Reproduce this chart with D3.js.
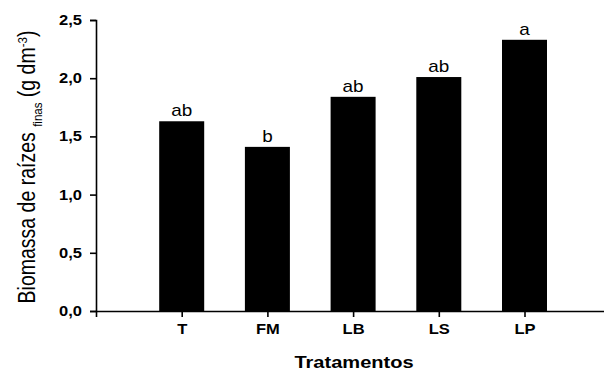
<!DOCTYPE html>
<html><head><meta charset="utf-8">
<script src="https://cdn.jsdelivr.net/npm/d3@7"></script>
<style>body{margin:0;background:#fff}svg{display:block}text{font-family:Arial,"Liberation Sans",sans-serif}</style>
</head><body>
<script>
const categories = ["T","FM","LB","LS","LP"];
const values = [1.63, 1.41, 1.84, 2.01, 2.33];
const letters = ["ab","b","ab","ab","a"];
const yTicks = [0, 0.5, 1.0, 1.5, 2.0, 2.5];

const W = 604, H = 372;
const SX = 1.18; // horizontal stretch of text
const svg = d3.select("body").append("svg").attr("width", W).attr("height", H);
const x0 = 96, y0 = 311, yTop = 20;
const y = d3.scaleLinear().domain([0, 2.5]).range([y0, yTop]);
const x = d3.scaleLinear().domain([0, 6]).range([x0, x0 + 6 * 85.7]);
const barW = 45;
const fmt = d => d3.format(".1f")(d).replace(".", ",");

// bars
svg.selectAll("rect.bar").data(values).join("rect")
  .attr("x", (d, i) => x(i + 1) - barW / 2)
  .attr("y", d => y(d))
  .attr("width", barW)
  .attr("height", d => y(0) - y(d))
  .attr("fill", "#000");

svg.selectAll("text.let").data(values).join("text")
  .attr("transform", (d, i) => `translate(${x(i + 1)},${y(d) - 5}) scale(${SX},1)`)
  .attr("text-anchor", "middle")
  .attr("font-size", 16)
  .text((d, i) => letters[i]);

// y axis
const ya = svg.append("g").attr("transform", `translate(${x0},0)`)
  .call(d3.axisLeft(y).tickValues(yTicks).tickFormat(fmt).tickSizeOuter(0).tickSize(6).tickPadding(8));
ya.select(".domain").attr("stroke", "#000").attr("stroke-width", 1.6);
ya.selectAll(".tick line").attr("stroke-width", 1.6);
ya.selectAll("text").attr("font-size", 14).attr("font-weight", "bold")
  .attr("font-family", "Arial, 'Liberation Sans', sans-serif")
  .attr("x", -14 / SX).attr("transform", `scale(${SX},1)`);

// x axis
const xa = svg.append("g").attr("transform", `translate(0,${y0})`)
  .call(d3.axisBottom(x).tickValues([1,2,3,4,5]).tickFormat(d => categories[d - 1]).tickSizeOuter(0).tickSize(6).tickPadding(7));
xa.select(".domain").attr("stroke", "#000").attr("stroke-width", 1.6);
xa.selectAll(".tick line").attr("stroke-width", 1.6);
xa.selectAll("text").attr("font-size", 14).attr("font-weight", "bold")
  .attr("font-family", "Arial, 'Liberation Sans', sans-serif")
  .attr("transform", `scale(${SX},1)`);

// titles
svg.append("text").attr("transform", `translate(354,368) scale(${SX},1)`).attr("text-anchor", "middle")
  .attr("font-size", 17).attr("font-weight", "bold").text("Tratamentos");

const yt = svg.append("text")
  .attr("transform", `translate(35,167) scale(${SX},1) rotate(-90)`)
  .attr("text-anchor", "middle").attr("font-size", 19.5);
yt.append("tspan").text("Biomassa de raízes ");
yt.append("tspan").attr("font-size", 11.5).attr("dy", 6).text("finas");
yt.append("tspan").attr("dy", -6).text(" (g dm");
yt.append("tspan").attr("font-size", 11.5).attr("dy", -7).text("-3");
yt.append("tspan").attr("dy", 7).text(")");
</script>
</body></html>
